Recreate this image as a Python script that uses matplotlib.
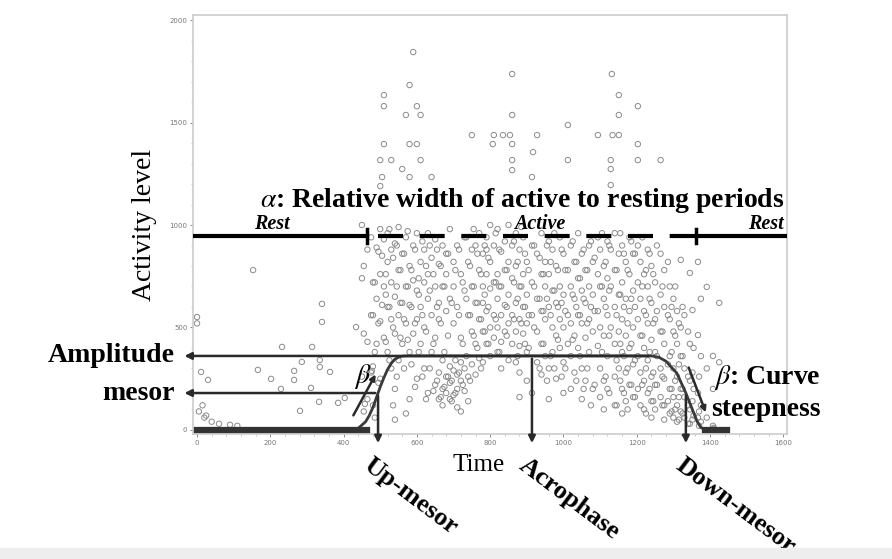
import matplotlib.pyplot as plt
import matplotlib.patches as mpatches
from matplotlib.ticker import MultipleLocator

plt.rcParams['font.family'] = ['Liberation Serif', 'DejaVu Serif']
plt.rcParams['mathtext.fontset'] = 'stix'

# scattered activity counts (time -> activity values)
rest_am_time = [0, 0, 11, 30, 153, 166, 202, 229, 232, 265, 265, 281, 286, 311, 314, 333,
                335, 335, 341, 341, 363, 385, 403, 434, 458, 477, 20, 40, 60, 90, 110, 5, 15, 25]
rest_am_level = [551, 520, 283, 244, 780, 293, 249, 200, 405, 288, 244, 93, 332, 205, 405, 137,
                 341, 307, 615, 527, 283, 132, 156, 502, 127, 288, 60, 40, 30, 25, 20, 90, 120, 70]

col_time = [450, 465, 480, 490, 500, 505, 510, 520, 530, 540, 550, 560, 570, 580, 590, 600,
            610, 620, 630, 640, 650, 660, 670, 680, 690, 700, 710, 720, 730, 740, 750, 760,
            770, 780, 790, 800, 807, 810, 820, 830, 835, 840, 850, 854, 860, 870, 880, 890,
            900, 914, 917, 928, 940, 950, 960, 970, 980, 990, 1000, 1012, 1020, 1030, 1040,
            1050, 1060, 1070, 1080, 1094, 1100, 1110, 1120, 1129, 1132, 1134, 1140, 1151,
            1160, 1170, 1180, 1190, 1203, 1210, 1220, 1230, 1240, 1250, 1265, 1275, 1290,
            1300, 1310, 1320, 1330, 1345, 1352, 1367, 1375, 1391, 1408, 1410, 1425]
col_levels = [
    [1000, 740, 260], [880, 430, 150], [120, 310, 560, 720], [640, 890, 420],
    [980, 760, 530, 250, 1190, 1317], [1234, 850, 610], [700, 930, 450, 1395, 1580, 1634],
    [820, 600, 380, 960], [1317, 540, 880, 720, 300], [910, 650, 470, 200, 50],
    [780, 560, 990, 340], [1273, 860, 620, 420], [940, 700, 520, 1537, 80],
    [1395, 1234, 1683, 800, 610, 380, 150], [1844, 900, 730, 470], [1395, 1580, 960, 680, 540, 250],
    [1317, 1537, 820, 600, 420], [880, 720, 500, 300], [960, 640, 760, 180], [1234, 840, 560, 380],
    [700, 930, 450, 220], [620, 810, 280, 150, 540], [900, 700, 340, 200, 120],
    [760, 580, 260, 180, 860], [980, 640, 310, 230, 150], [820, 520, 290, 170, 700],
    [900, 600, 270, 200, 110], [760, 450, 330, 240, 90], [940, 680, 300, 190],
    [820, 560, 260, 140], [1439, 700, 480, 320, 880], [900, 620, 420, 270],
    [780, 960, 540, 350], [860, 700, 480, 620, 330], [940, 760, 580, 420, 880],
    [820, 690, 500, 360, 1000], [1395], [1439, 900, 720, 560, 450], [980, 760, 640, 500, 380],
    [870, 700, 560, 430, 300], [1439], [920, 780, 610, 480], [1000, 820, 660, 520, 340], [1439],
    [1737, 1537, 1395, 1317, 1268, 900, 740, 560, 420], [960, 800, 620, 480, 330],
    [880, 700, 540, 410, 280, 160], [940, 760, 600, 470], [820, 660, 520, 380, 240],
    [1234, 900, 720, 560, 180], [1356], [1439, 860, 640, 480, 330], [960, 760, 580, 420, 270],
    [820, 700, 540, 360], [920, 760, 600, 300, 150], [880, 680, 500, 380], [800, 620, 460, 250],
    [940, 700, 540, 400], [860, 660, 500, 330, 180], [1488, 1317, 780, 560, 420],
    [900, 700, 520, 360, 200], [820, 640, 460, 280], [960, 740, 560, 400],
    [860, 680, 520, 300, 150], [780, 620, 450, 240], [900, 700, 540, 380], [820, 660, 480, 200],
    [1439, 940, 760, 580, 410], [880, 700, 500, 300, 160], [800, 640, 460, 240, 100],
    [920, 740, 560, 360, 200], [1317, 1273, 1195, 880, 700, 500], [1737], [1439],
    [960, 780, 600, 420, 260, 120], [1634, 1537, 1439, 860, 660, 480, 300],
    [900, 720, 540, 380, 200, 80], [820, 640, 460, 280, 140], [940, 760, 580, 400, 220],
    [860, 680, 500, 320, 160], [1580, 1395, 1317, 900, 720, 540, 360, 200],
    [820, 640, 460, 280, 120], [760, 580, 400, 240, 100], [880, 700, 520, 340, 180],
    [800, 620, 440, 260, 140, 60], [720, 540, 380, 220, 100], [1317, 860, 660, 480, 300, 160],
    [780, 600, 420, 250, 120, 50], [700, 540, 360, 200, 80], [640, 480, 300, 160, 60],
    [580, 420, 260, 120, 40], [830, 500, 360, 200, 90], [560, 300, 160, 60],
    [766, 420, 240, 100, 30], [585, 280, 140, 50], [820, 463, 180, 60], [640, 360, 120, 40],
    [698, 300, 60], [361, 200, 20], [10, 5],
]

# second pass of points between the columns above
col_time_b = [455, 475, 485, 495, 515, 525, 535, 545, 555, 565, 575, 585, 595, 605, 615, 625,
              635, 645, 655, 665, 675, 685, 695, 705, 715, 725, 735, 745, 755, 765, 775, 785,
              795, 815, 825, 845, 865, 875, 885, 895, 905, 920, 935, 945, 955, 965, 975, 985,
              995, 1005, 1025, 1035, 1045, 1055, 1065, 1075, 1085, 1105, 1115, 1125, 1145,
              1155, 1165, 1175, 1185, 1195, 1215, 1225, 1235, 1245, 1255, 1270, 1285, 1295,
              1305, 1315, 1325, 1340, 1355, 1370, 1385]
col_levels_b = [
    [620, 330], [800, 470, 90], [940, 560, 280], [720, 380, 60], [870, 520, 230],
    [660, 760, 430], [980, 600, 340], [840, 500, 120], [700, 900, 260], [620, 780, 450],
    [860, 540, 300], [970, 700, 440], [780, 600, 320], [880, 520, 210], [740, 660, 380],
    [920, 560, 260], [800, 480, 150], [680, 900, 300], [760, 420, 190], [880, 600, 240],
    [520, 800, 160], [700, 380, 210], [860, 460, 260], [620, 240, 140], [780, 340, 180],
    [880, 560, 280], [720, 420, 220], [940, 640, 360], [800, 560, 240], [980, 700, 460],
    [860, 620, 400], [760, 540, 300], [900, 660, 480], [840, 600, 420], [960, 720, 540],
    [880, 700, 380], [780, 600, 460], [920, 720, 540], [820, 640, 360], [990, 700, 520],
    [860, 600, 420], [780, 560, 400], [900, 700, 500], [840, 640, 300], [760, 580, 420],
    [900, 640, 240], [820, 560, 360], [960, 680, 300], [780, 600, 440], [880, 620, 260],
    [780, 580, 300], [920, 660, 440], [820, 600, 240], [740, 560, 360], [880, 640, 200],
    [780, 520, 300], [920, 600, 120], [840, 580, 220], [960, 700, 380], [820, 600, 260],
    [900, 680, 460, 180], [780, 560, 340, 120], [960, 660, 420, 240], [860, 600, 360, 180],
    [780, 520, 300, 100], [920, 640, 420, 220], [860, 600, 340, 160], [940, 700, 460, 220],
    [780, 560, 300, 80], [860, 640, 380, 200], [760, 520, 280, 140], [900, 580, 360, 220],
    [700, 480, 260, 120], [820, 560, 320, 140], [600, 380, 200, 90], [700, 460, 240, 100],
    [520, 320, 160, 50], [600, 360, 200, 80], [480, 260, 120, 30], [400, 200, 70],
    [260, 90, 20],
]

# fitted rhythm curve
curve_time = [0, 420, 440, 460, 470, 480, 490, 494, 500, 510, 520, 530, 540, 550, 560, 573,
              914, 1240, 1260, 1280, 1295, 1309, 1320, 1334, 1345, 1355, 1365, 1375, 1385,
              1395, 1445]
curve_level = [0, 0, 8, 40, 70, 110, 160, 180, 210, 255, 295, 325, 345, 355, 360, 361,
               361, 361, 355, 335, 305, 278, 235, 180, 130, 85, 40, 12, 2, 0, 0]

up_mesor, acrophase, down_mesor = 494, 914, 1334
mesor, amplitude = 180, 361
rest_end_am, rest_start_pm = 463, 1362
alpha_y = 946

act_time = [t for t, lv in zip(col_time + col_time_b, col_levels + col_levels_b) for _ in lv]
act_level = [v for lv in col_levels + col_levels_b for v in lv]

fig = plt.figure(figsize=(8.92, 5.59), dpi=100)
fig.patches.append(mpatches.Rectangle((0, 0), 1, 11 / 559, transform=fig.transFigure,
                                      color='#eeeeee', zorder=0))
ax = fig.add_axes([193 / 892, 1 - 434 / 559, 594 / 892, 419 / 559])
ax.set_xlim(-11, 1610)
ax.set_ylim(-20, 2025)

ax.scatter(rest_am_time + act_time, rest_am_level + act_level, s=15,
           facecolors='none', edgecolors='#8a8a8a', linewidths=0.7, zorder=2)

ax.plot(curve_time, curve_level, color='#3a3a3a', lw=2, zorder=3)
ax.plot([curve_time[0], rest_end_am], [0, 0], color='#333333', lw=4.5, zorder=3)
ax.plot([curve_time[-3], curve_time[-1]], [0, 0], color='#333333', lw=4.5, zorder=3)

# alpha bar: rest / active / rest
ax.plot([-11, rest_end_am], [alpha_y, alpha_y], color='black', lw=3, zorder=4)
ax.plot([rest_end_am + 30, rest_start_pm], [alpha_y, alpha_y], color='black', lw=3,
        dashes=(6, 4), zorder=4)
ax.plot([rest_start_pm, 1610], [alpha_y, alpha_y], color='black', lw=3, zorder=4)
for xv in (rest_end_am, rest_start_pm):
    ax.plot([xv, xv], [alpha_y - 35, alpha_y + 35], color='black', lw=2.5, zorder=4)

ax.text(172, 1122, r'$\alpha$: Relative width of active to resting periods', fontsize=20,
        fontweight='bold', va='center', ha='left', zorder=5)
ax.text(205, 1005, 'Rest', fontsize=14.5, fontweight='bold', style='italic', ha='center', va='center')
ax.text(935, 1005, 'Active', fontsize=14.5, fontweight='bold', style='italic', ha='center', va='center')
ax.text(1600, 1005, 'Rest', fontsize=14.5, fontweight='bold', style='italic', ha='right', va='center')

arr = dict(arrowstyle='-|>', color='#2a2a2a', lw=1.8, mutation_scale=10)
ax.annotate('', xy=(-42, amplitude), xytext=(1240, amplitude), arrowprops=arr,
            annotation_clip=False)
ax.annotate('', xy=(-42, mesor), xytext=(up_mesor, mesor), arrowprops=arr,
            annotation_clip=False)
for xv, y0 in ((up_mesor, mesor), (acrophase, amplitude), (down_mesor, mesor)):
    ax.annotate('', xy=(xv, -78), xytext=(xv, y0), arrowprops=arr, annotation_clip=False)

ax.annotate('', xy=(491, 283), xytext=(423, 59),
            arrowprops=dict(arrowstyle='-|>', color='#2a2a2a', lw=1.8, mutation_scale=8))
ax.annotate('', xy=(1391, 73), xytext=(1339, 317),
            arrowprops=dict(arrowstyle='-|>', color='#2a2a2a', lw=1.8, mutation_scale=8),
            annotation_clip=False)
ax.text(453, 262, r'$\beta$', fontsize=20, ha='center', va='center')
ax.text(1412, 254, r'$\beta$: Curve', fontsize=20, fontweight='bold', ha='left', va='center')
ax.text(1402, 98, 'steepness', fontsize=20, fontweight='bold', ha='left', va='center')

ax.text(-60, amplitude, 'Amplitude', fontsize=20, fontweight='bold', ha='right', va='center')
ax.text(-60, mesor, 'mesor', fontsize=20, fontweight='bold', ha='right', va='center')

for xv, label in ((up_mesor - 12, 'Up-mesor'), (acrophase - 8, 'Acrophase'),
                  (down_mesor, 'Down-mesor')):
    ax.text(xv, -115, label, fontsize=19, fontweight='bold', rotation=-37,
            rotation_mode='anchor', ha='left', va='top')

ax.text(768, -170, 'Time', fontsize=18, ha='center', va='center')
ax.set_ylabel('Activity level', fontsize=20)
ax.yaxis.set_label_coords(-0.06, 0.5)

ax.set_xticks(range(0, 1601, 200))
ax.set_yticks(range(0, 2001, 500))
ax.xaxis.set_minor_locator(MultipleLocator(40))
ax.yaxis.set_minor_locator(MultipleLocator(100))
ax.tick_params(labelsize=5, colors='#777777', length=2, width=0.6, pad=2, labelfontfamily='DejaVu Sans')
ax.tick_params(which='minor', length=1.5, width=0.5, colors='#aaaaaa')
for sp in ax.spines.values():
    sp.set_color('#cccccc')
    sp.set_linewidth(1.2)

fig.savefig('out.png', dpi=100)
